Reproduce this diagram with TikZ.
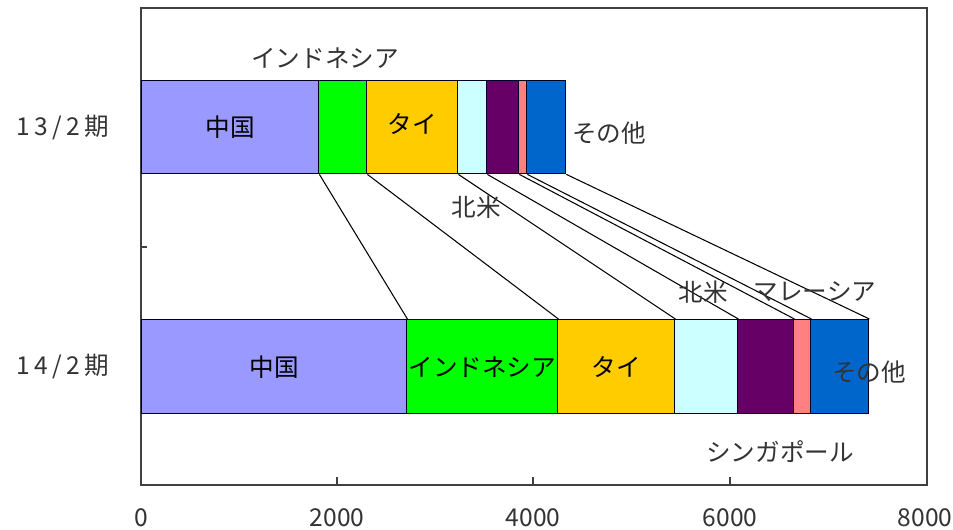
\documentclass[tikz,border=0pt]{standalone}
\usepackage{fontspec}
\setmainfont{Noto Sans CJK JP}
\usepackage{tikz}
\usetikzlibrary{positioning}

\definecolor{china}{HTML}{9999FF}
\definecolor{indo}{HTML}{00FF00}
\definecolor{thai}{HTML}{FFCC00}
\definecolor{namer}{HTML}{CCFFFF}
\definecolor{malay}{HTML}{660066}
\definecolor{sing}{HTML}{FF8080}
\definecolor{other}{HTML}{0066CC}
\definecolor{txt}{HTML}{333333}

\tikzset{
  seg/.style={draw=black!85!blue, line width=0.8pt, inner sep=0pt, anchor=north west,
    minimum height=#1*0.02cm, font=\fontsize{14}{14}\selectfont},
  lab/.style={text=txt, inner sep=0pt, font=\fontsize{14}{14}\selectfont},
  period/.style={lab, font=\fontsize{14}{14}\selectfont\addfontfeature{LetterSpace=18}},
  serline/.style={black, line width=0.6pt}
}

\begin{document}
\begin{tikzpicture}[x=0.02cm, y=-0.02cm]
\useasboundingbox (0,0) rectangle (953,530);
% plot frame and ticks
\draw[black!75, line width=1pt] (141,8) rectangle (927,485);
\draw[black!75, line width=0.6pt] (141,247) -- (147,247);
\draw[black!75, line width=0.6pt] (337,485) -- (337,477);
\draw[black!75, line width=0.6pt] (533,485) -- (533,477);
\draw[black!75, line width=0.6pt] (730,485) -- (730,477);

% 13/2
\node[seg=93, fill=china, minimum width=177*0.02cm] (a1) at (141,80) {中国};
\node[seg=93, fill=indo, minimum width=48*0.02cm] (a2) at (318,80) {};
\node[seg=93, fill=thai, minimum width=91*0.02cm] (a3) at (366,80) {\raisebox{4pt}{タイ}};
\node[seg=93, fill=namer, minimum width=29*0.02cm] (a4) at (457,80) {};
\node[seg=93, fill=malay, minimum width=32*0.02cm] (a5) at (486,80) {};
\node[seg=93, fill=sing, minimum width=8*0.02cm] (a6) at (518,80) {};
\node[seg=93, fill=other, minimum width=39*0.02cm] (a7) at (526,80) {};

% 14/2
\node[seg=94, fill=china, minimum width=265*0.02cm] (b1) at (141,319) {中国};
\node[seg=94, fill=indo, minimum width=151*0.02cm] (b2) at (406,319) {インドネシア};
\node[seg=94, fill=thai, minimum width=117*0.02cm] (b3) at (557,319) {タイ};
\node[seg=94, fill=namer, minimum width=63*0.02cm] (b4) at (674,319) {};
\node[seg=94, fill=malay, minimum width=56*0.02cm] (b5) at (737,319) {};
\node[seg=94, fill=sing, minimum width=17*0.02cm] (b6) at (793,319) {};
\node[seg=94, fill=other, minimum width=58*0.02cm] (b7) at (810,319) {};

% series lines
\draw[serline] (a1.south east) -- (b1.north east);
\draw[serline] (a2.south east) -- (b2.north east);
\draw[serline] (a3.south east) -- (b3.north east);
\draw[serline] (a4.south east) -- (b4.north east);
\draw[serline] (a5.south east) -- (b5.north east);
\draw[serline] (a6.south east) -- (b6.north east);
\draw[serline] (a7.south east) -- (b7.north east);

% labels
\node[period] (l13) at (63,128) {13/2期};
\node[period] (l14) at (63,367) {14/2期};
\node[lab] (aindo) at (325,58) {インドネシア};
\node[lab, anchor=west] (aoth) at (572,133) {その他};
\node[lab] (ana) at (476,207) {北米};
\node[lab] (bna) at (703,292) {北米};
\node[lab] (bmal) at (815,292) {マレーシア};
\node[lab] (both) at (869,372) {その他};
\node[lab] (bsing) at (780,452) {シンガポール};

% x axis
\node[lab] (x0) at (141,518) {0};
\node[lab] (x2) at (337,518) {2000};
\node[lab] (x4) at (533,518) {4000};
\node[lab] (x6) at (730,518) {6000};
\node[lab] (x8) at (925,518) {8000};
\end{tikzpicture}
\end{document}
